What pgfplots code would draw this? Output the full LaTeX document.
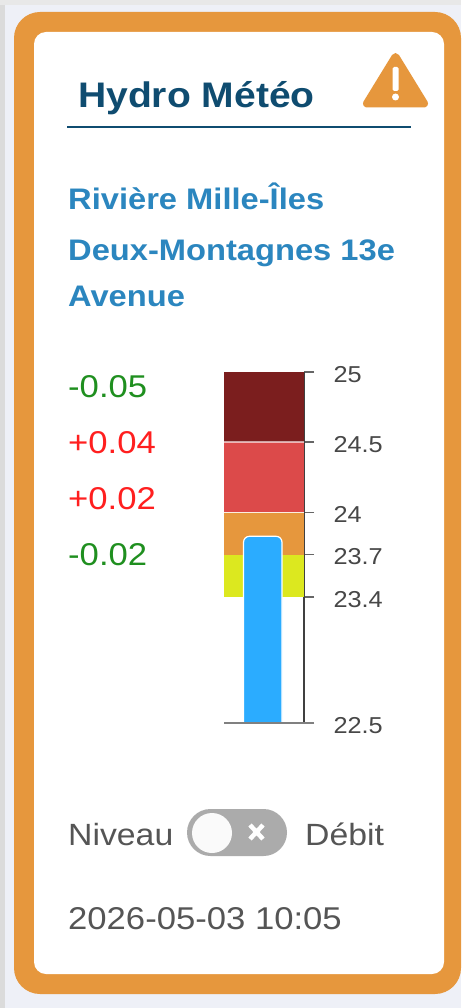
\documentclass[border=0pt]{standalone}
\usepackage{fontspec}
\setmainfont[FakeStretch=1.1]{Liberation Sans}
\usepackage{pgfplots}
\pgfplotsset{compat=1.18}
\definecolor{cardorange}{HTML}{E6973D}
\definecolor{titleblue}{HTML}{0F4C70}
\definecolor{subblue}{HTML}{2B86BF}
\definecolor{darkred}{HTML}{7B1E1E}
\definecolor{midred}{HTML}{DC4A4A}
\definecolor{lvlyellow}{HTML}{DCE81F}
\definecolor{barblue}{HTML}{2BACFF}
\definecolor{txtgray}{HTML}{555555}
\definecolor{posgreen}{HTML}{1F8F1F}
\definecolor{negred}{HTML}{FF1F1F}
\definecolor{pagebg}{HTML}{EEF0F7}
\newcommand{\fs}[1]{\fontsize{#1pt}{#1pt}\selectfont}
\begin{document}
\begin{tikzpicture}
\begin{scope}[x=1pt,y=-1pt]
\path[use as bounding box] (0,0) rectangle (461,1008);
\fill[black!14] (0,0) rectangle (461,1008);
\fill[black!9] (0,0) rectangle (461,5);
\fill[pagebg] (5,5) rectangle (461,1008);
\fill[cardorange,rounded corners=26pt] (14,12) rectangle (461,994);
\fill[white,rounded corners=12pt] (34,32) rectangle (444,974);
% title
\node[anchor=base west,inner sep=0,text=titleblue] at (78,108) {\fs{35.5}\bfseries Hydro Météo};
\draw[titleblue,line width=2pt] (67,127.5) -- (411,127.5);
% warning icon
\filldraw[cardorange,line width=8pt,line join=round] (395.5,57) -- (424,103.5) -- (367,103.5) -- cycle;
\fill[white,rounded corners=1.5pt] (392.5,67) rectangle (398.5,91);
\fill[white] (395.5,97) circle (3.5);
% station name
\node[anchor=base west,inner sep=0,text=subblue] at (68,210) {\fs{29.7}\bfseries Rivière Mille-Îles};
\node[anchor=base west,inner sep=0,text=subblue] at (68,260) {\fs{29.7}\bfseries Deux-Montagnes 13e};
\node[anchor=base west,inner sep=0,text=subblue] at (68,306) {\fs{29.7}\bfseries Avenue};
% deltas
\node[anchor=base west,inner sep=0,text=posgreen] at (68,397) {\fs{31.5}-0.05};
\node[anchor=base west,inner sep=0,text=negred] at (68,453) {\fs{31.5}+0.04};
\node[anchor=base west,inner sep=0,text=negred] at (68,509) {\fs{31.5}+0.02};
\node[anchor=base west,inner sep=0,text=posgreen] at (68,565) {\fs{31.5}-0.02};
% toggle
\node[anchor=base west,inner sep=0,text=txtgray] at (68,845) {\fs{30.7}Niveau};
\fill[black!33,rounded corners=23.5pt] (187,809) rectangle (287,856);
\fill[white!98!black] (212,833) circle (20);
\draw[white,line width=4.5pt] (250,825) -- (263,839) (263,825) -- (250,839);
\node[anchor=base west,inner sep=0,text=txtgray] at (305,845) {\fs{30.7}Débit};
\node[anchor=base west,inner sep=0,text=txtgray] at (68,929) {\fs{31.5}2026-05-03 10:05};
\end{scope}
\begin{axis}[
  at={(224pt,-723pt)},anchor=origin,
  scale only axis,width=80pt,height=351pt,
  xmin=0,xmax=80,ymin=22.5,ymax=25,
  axis y line*=right,axis x line*=bottom,
  x axis line style={draw=none},
  y axis line style={draw=black!75,line width=1.4pt,-},
  xtick=\empty,
  ytick={23.4,23.7,24,24.5,25},
  extra y ticks={22.5},
  tick align=outside,
  major tick length=10pt,
  tick style={draw=black!60,line width=1.8pt},
  yticklabel style={font=\fs{23},text=black!72,anchor=west,xshift=16pt,yshift=-2.5pt,
    /pgf/number format/assume math mode=true},
  yticklabel={\pgfmathprintnumber[fixed,precision=1]{\tick}},
]
\addplot[fill=lvlyellow,draw=none] coordinates {(0,23.4)(80,23.4)(80,23.7)(0,23.7)} -- cycle;
\addplot[fill=cardorange,draw=none] coordinates {(0,23.7)(80,23.7)(80,24)(0,24)} -- cycle;
\addplot[fill=midred,draw=none] coordinates {(0,24)(80,24)(80,24.5)(0,24.5)} -- cycle;
\addplot[fill=darkred,draw=none] coordinates {(0,24.5)(80,24.5)(80,25)(0,25)} -- cycle;
\addplot[draw=white,opacity=.6,line width=1.5pt] coordinates {(0,24.5)(80,24.5)};
\addplot[draw=white,opacity=.85,line width=1.2pt] coordinates {(0,24)(80,24)};
\addplot[fill=barblue,draw=white,line width=1.2pt,rounded corners=6pt] coordinates {(19.5,22.4)(19.5,23.83)(58,23.83)(58,22.4)} -- cycle;
\end{axis}
\begin{scope}[x=1pt,y=-1pt]
\draw[black!50,line width=2.2pt] (224,723) -- (314,723);
\end{scope}
\end{tikzpicture}
\end{document}
